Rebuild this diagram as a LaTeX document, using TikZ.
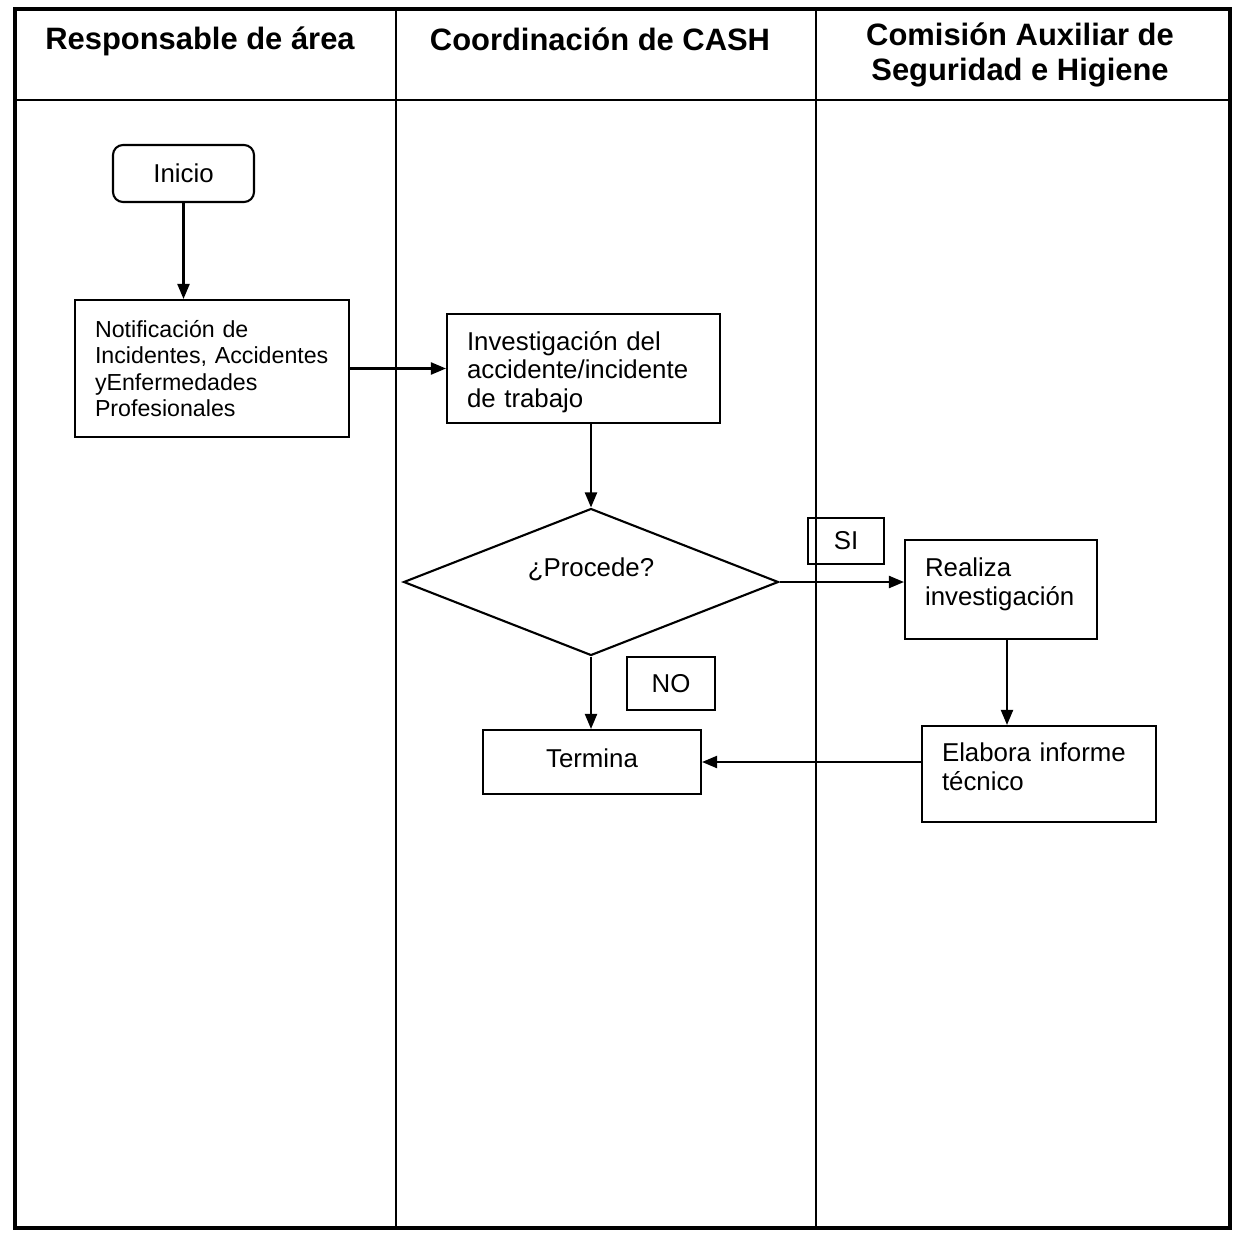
\documentclass[tikz,border=0pt]{standalone}
\usepackage{fontspec}
\setmainfont{Liberation Sans}
\usetikzlibrary{shapes.geometric,arrows.meta}

\tikzset{
  box/.style={draw, line width=1.2pt, inner xsep=0.4cm, inner ysep=0pt, align=left},
  tag/.style={draw, line width=1.2pt, inner sep=0pt, align=center},
  decision/.style={draw, line width=1.2pt, diamond, aspect=2.5, inner sep=0pt,
    minimum width=7.5cm, minimum height=2.94cm, text depth=0.6cm},
  flow/.style={line width=1.2pt, -{Triangle[length=0.3cm,width=0.24cm]}},
  lane/.style={font=\fontsize{17.6}{20}\selectfont\bfseries, align=center}
}

\begin{document}
\begin{tikzpicture}[x=0.02cm,y=-0.02cm,font=\fontsize{14.7}{16.5}\selectfont]
        \useasboundingbox (0,0) rectangle (1237,1234);
        % swimlanes
        \draw[line width=1.8pt] (15,9) rectangle (1230,1228);
        \draw[line width=1.2pt] (15,100) -- (1230,100);
        \draw[line width=1.2pt] (396,9) -- (396,1228);
        \draw[line width=1.2pt] (816,9) -- (816,1228);
        \node[lane] (laneA) at (200,41) {Responsable de área};
        \node[lane] (laneB) at (600,39) {Coordinación de CASH};
        \node[lane] (laneC) at (1020,55) {Comisión Auxiliar de\\Seguridad e Higiene};

        % steps
        \node[box, rounded corners=0.2cm, align=center, inner sep=0pt,
              minimum width=2.82cm, minimum height=1.14cm] (inicio) at (183.5,173.5) {Inicio};
        \node[box, text width=4.68cm, minimum height=2.74cm,
              font=\fontsize{13.2}{15.1}\selectfont] (notif) at (212,368.5)
              {Notificación de\\Incidentes, Accidentes\\yEnfermedades\\Profesionales};
        \node[box, text width=4.66cm, minimum height=2.18cm, text height=0.37cm, text depth=1.11cm]
              (invest) at (583.5,368.5) {Investigación del\\accidente/incidente\\de trabajo};
        \node[decision] (procede) at (591,582) {¿Procede?};
        \node[tag, minimum width=1.52cm, minimum height=0.92cm] (si) at (846,541) {SI};
        \node[box, text width=3.04cm, minimum height=1.98cm, text height=0.35cm, text depth=0.89cm]
              (realiza) at (1001,589.5) {Realiza\\investigación};
        \node[tag, minimum width=1.76cm, minimum height=1.06cm] (no) at (671,683.5) {NO};
        \node[box, align=center, inner sep=0pt, minimum width=4.36cm, minimum height=1.28cm,
              text depth=0.15cm] (termina) at (592,762) {Termina};
        \node[box, text width=3.88cm, minimum height=1.92cm, text height=0.35cm, text depth=0.87cm]
              (elabora) at (1039,774) {Elabora informe\\técnico};

        % connectors
        \draw[flow] (inicio.south) -- (inicio.south |- notif.north);
        \draw[flow] (notif) -- (invest);
        \draw[flow] (procede.north |- invest.south) -- (procede.north);
        \draw[flow] (procede.east) -- (procede.east -| realiza.west);
        \draw[flow] (procede.south) -- (procede.south |- termina.north);
        \draw[flow] ([xshift=0.12cm]realiza.south) -- ([xshift=0.12cm]realiza.south |- elabora.north);
        \draw[flow] (elabora.west |- termina.east) -- (termina.east);
    \end{tikzpicture}
\end{document}
